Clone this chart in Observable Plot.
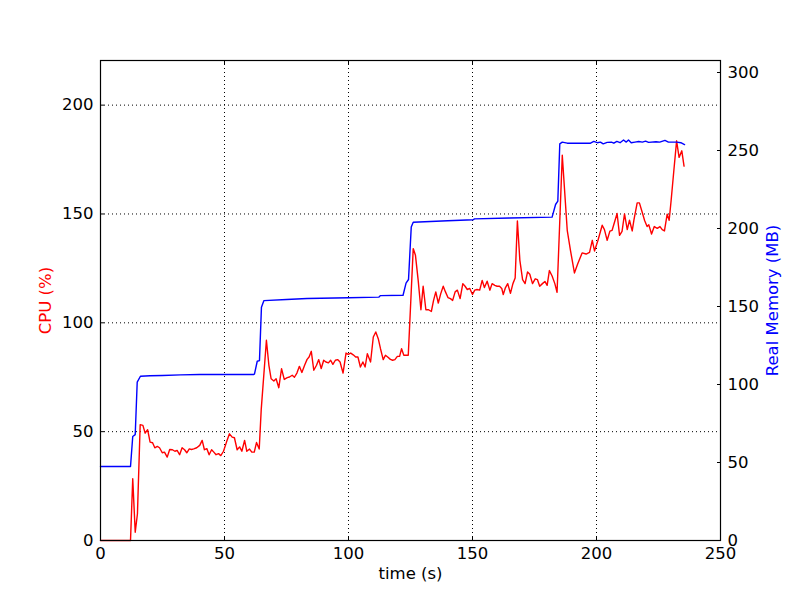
<!DOCTYPE html>
<html><head><meta charset="utf-8">
<script src="https://cdn.jsdelivr.net/npm/d3@7"></script>
<script src="https://cdn.jsdelivr.net/npm/@observablehq/plot@0.6"></script>
<style>html,body{margin:0;padding:0;background:#fff} svg{display:block}</style>
</head><body><div id="chart"></div>
<script>
const cpuTime = [0,12.1,13,14,14.9,16,17.1,18,19,20,21,21.9,22.9,23.8,24.9,25.8,26.9,27.9,29,30,30.9,31.9,32.9,33.9,34.8,35.8,36.7,37.6,38.8,40,41,41.9,42.9,43.8,44.8,45.7,46.6,47.6,48.5,49.6,50.8,52,53.1,54,55.1,56.1,57,58.1,59,60.1,61,62,62.9,64,64.8,66.9,67.9,68.8,69.9,70.8,71.9,73,74.1,75.3,76.2,77.3,78.2,79.2,80.2,81.2,82.3,83.3,84.1,85,86,87.1,88,89,90,90.9,91.9,92.8,93.7,94.7,95.6,96.6,97.8,99,99.9,100.9,101.9,102.9,103.8,104.8,105.8,106.7,107.6,108.9,110,111,112,112.9,114,114.9,115.8,116.9,117.8,118.7,119.7,120.6,121.4,122.3,124.1,126.1,127,128.1,129.2,130.1,131.2,132.3,133.4,134.3,135.2,136.2,137.2,138.2,139.1,140.1,141.1,142,143,143.9,145,146.1,147,147.9,148.9,150,150.9,151.8,152.9,153.9,154.8,155.9,157,157.9,159,159.9,160.9,161.8,162.4,163.3,164.2,165.3,166.3,167.2,168.1,169.1,170.2,171.2,172.2,173.1,174.2,175.3,176.2,177.1,178.2,179.2,180.1,181,182.1,183.2,184.1,186.2,188.2,189.5,191.1,192.4,194.2,195.8,197.2,198.3,199.2,200.6,202.3,203.2,204.3,205.4,206.3,208.3,209.3,210.3,211.3,212.4,213.3,214.4,215.1,216.4,217.3,218.4,219.4,220.4,221.1,222.2,223.3,224.5,225.6,226.5,227.4,228.5,229.3,230.1,231.2,232.3,233.3,234.4,235.3];
const cpuValue = [0,0,28.4,3.8,12.3,53.2,52.9,49.3,50.9,45.2,44.9,42.6,43.2,42.6,40.3,40.6,38.3,41.8,41.7,41,41.4,39.4,42.6,41.7,40.3,42.1,41.8,42.1,42.6,43.7,46,41.7,42.2,39.4,41.7,40.6,39.4,39.9,39,41,45.2,49,47.5,47.2,41.7,43,41,46,41,42,40.6,40.6,45,42,60,92,80.5,74.3,73.3,74.3,70.2,78.9,74,74.8,75.1,75.9,75,76.9,80,77.2,80.5,83.2,84.3,86.9,78.2,80.5,83.1,79,82.8,82,81.6,82.8,80.9,82.8,83.1,82,76.9,86.1,85.5,86.1,85.3,84.3,84.3,79.7,82,79.7,85.8,82,93.5,95.8,92.7,88.1,83.1,85.1,84.3,83.2,82.8,83.1,84.6,84.6,88.1,85.1,85.1,134.1,131,119.5,106,116.8,106,106,105.2,110.3,114.2,109.1,113.4,116.8,114.2,111.6,111.1,110.3,114.2,115,111.1,118,116.8,115.3,115.8,113,115,115.3,115,119.5,116.2,119.1,115,118,117.2,116.8,116.8,115.8,113,116.2,118,113.6,118,120.6,146.8,128.7,119.8,118,123.4,122.3,118,120.2,119.8,116.8,118,119,117.2,124,121.5,118,114,177,142.5,133.3,122.9,127,132.1,131.6,132.4,137.9,133,137.9,144.8,142.8,137.9,142.1,142.5,150.2,140.2,142,150,142.8,147.1,142.2,147.3,155.1,155.1,150.9,147,144.2,145,140.8,144.2,143.4,144.2,142.8,142.2,149.9,147.1,156.3,170.1,183.6,176,179,172];
const memTime = [0,12.1,13,14,14.8,16.1,20,25,32.3,40,61.8,62.1,63.2,64.1,64.9,65.9,75,83.3,100,112.2,112.9,122,123.2,124.2,125.3,126.1,140,150.3,150.8,165,182.1,183.5,184.4,185.2,186.2,188.2,197.6,198.9,200.3,201.6,202.7,204.3,206,207,208.2,209.5,210.9,212,212.9,214,215.5,217,218.5,219.8,221,224,225.5,227.6,229,232.4,234,235.5];
const memValue = [47.4,47.4,66.7,67.9,101.5,105.3,105.6,105.8,106.2,106.4,106.4,106.8,114.9,115.3,149.6,153.8,154.5,155.1,155.6,156,157,157.2,165,167.3,200.9,204,205,205.6,206.2,206.7,207.3,215.4,217.5,254.3,255.4,254.7,254.7,255.8,255,255.4,254.3,255.2,255.4,254.7,255.8,255,256.7,255.4,256.7,255,255.4,255.8,255.4,256,255.2,255.6,255.4,256.5,255.4,255.4,255,253.8];
const xTicks = [0,50,100,150,200,250];
const cpuTicks = [0,50,100,150,200];
const memTicks = [0,50,100,150,200,250,300];
const cpuMax = 220.5, memMax = 307.7;
const k = cpuMax / memMax;
const cpu = cpuTime.map((t, i) => ({t, v: cpuValue[i]}));
const mem = memTime.map((t, i) => ({t, v: memValue[i] * k}));
const grid = {stroke: "#000", strokeOpacity: 1, strokeDasharray: "1,3", strokeWidth: 1};
const chart = Plot.plot({
  width: 800, height: 600,
  marginLeft: 100, marginRight: 80, marginTop: 60, marginBottom: 60,
  style: {fontFamily: "DejaVu Sans", fontSize: "16.5px", background: "#fff", color: "#000"},
  x: {domain: [0, 250]},
  y: {domain: [0, cpuMax]},
  marks: [
    Plot.gridX(xTicks.slice(1, -1), grid),
    Plot.gridY(cpuTicks.slice(1), grid),
    Plot.line(cpu, {x: "t", y: "v", stroke: "#ff0000", strokeWidth: 1.4}),
    Plot.line(mem, {x: "t", y: "v", stroke: "#0000ff", strokeWidth: 1.4}),
    Plot.frame({stroke: "#000", strokeWidth: 1.2}),
    Plot.axisX({ticks: xTicks, anchor: "bottom", tickSize: -4, tickPadding: 11, label: null}),
    Plot.axisX({ticks: xTicks, anchor: "top", tickSize: -4, tickFormat: () => "", label: null}),
    Plot.axisY({ticks: cpuTicks, anchor: "left", tickSize: -4, tickPadding: 11, label: null}),
    Plot.axisY({ticks: memTicks.map(m => m * k), anchor: "right", tickSize: -4, tickPadding: 11, tickFormat: d => String(Math.round(d / k)), label: null}),
    Plot.text(["time (s)"], {frameAnchor: "bottom", dy: 38, fill: "#000"}),
    Plot.text(["CPU (%)"], {frameAnchor: "left", dx: -55, rotate: -90, textAnchor: "middle", fill: "#ff0000"}),
    Plot.text(["Real Memory (MB)"], {frameAnchor: "right", dx: 52, rotate: -90, textAnchor: "middle", fill: "#0000ff"})
  ]
});
document.getElementById("chart").appendChild(chart);
</script>
</body></html>
